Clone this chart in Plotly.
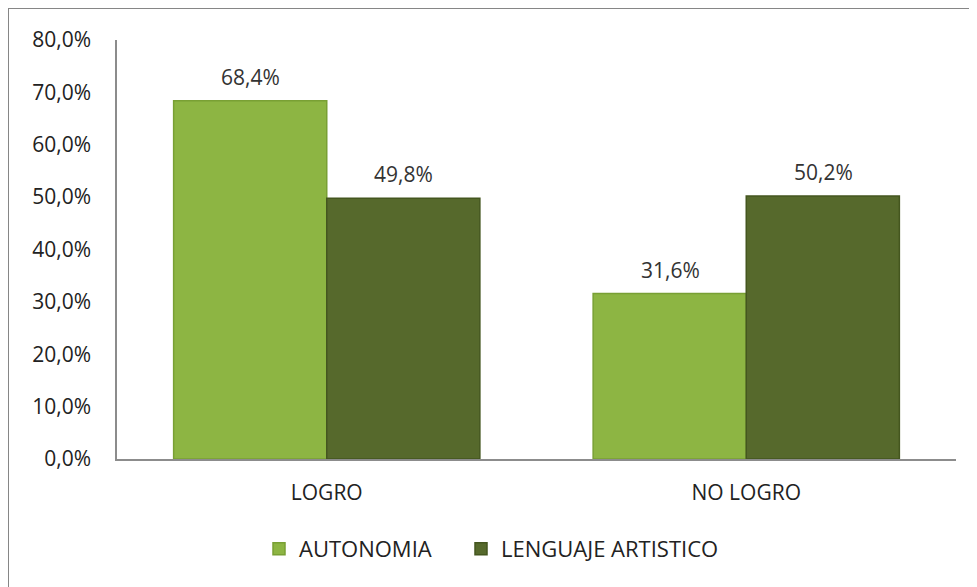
import plotly.graph_objects as go

categories = ["LOGRO", "NO LOGRO"]
autonomia = [68.4, 31.6]
lenguaje = [49.8, 50.2]
series_names = ["AUTONOMIA", "LENGUAJE ARTISTICO"]
tick_vals = [0, 10, 20, 30, 40, 50, 60, 70, 80]
tick_text = ["0,0%", "10,0%", "20,0%", "30,0%", "40,0%", "50,0%", "60,0%", "70,0%", "80,0%"]

FONT = "Open Sans"
FS = 21
W, H = 977, 587
OFF = 8  # page body offset
L, R, T, B = 117 - OFF, 21 + OFF, 40 - OFF, 128 + OFF
pw, ph = W - L - R, H - T - B

def px_x(x):
    return (x - OFF - L) / pw

def px_y(y):
    return (H - B - (y - OFF)) / ph

def fmt(v):
    return f"{v:.1f}%".replace(".", ",")

colors = ["#8db543", "#56692c"]
edges = ["#79a034", "#44561f"]
offsets = [-76, 77]
legend_ids = ["legend", "legend2"]

fig = go.Figure()
for name, vals, c, e, lg in zip(series_names, [autonomia, lenguaje], colors, edges, legend_ids):
    fig.add_trace(go.Bar(
        x=categories, y=vals, name=name, legend=lg,
        marker=dict(color=c, line=dict(color=e, width=1.5)),
    ))

annotations = []
for vals, off in zip([autonomia, lenguaje], offsets):
    for cat, v in zip(categories, vals):
        annotations.append(dict(
            x=cat, y=v, xref="x", yref="y", text=fmt(v), showarrow=False,
            xshift=off, yshift=24, yanchor="middle",
            font=dict(family=FONT, size=FS, color="#333333"),
        ))

def legend_at(xpx):
    return dict(
        orientation="h", x=px_x(xpx), xanchor="left",
        y=px_y(549), yanchor="middle",
        font=dict(family=FONT, size=22, color="#222222"),
        itemwidth=30, bgcolor="rgba(0,0,0,0)",
    )

fig.update_layout(
    width=W, height=H,
    margin=dict(l=L, r=R, t=T, b=B, autoexpand=False),
    paper_bgcolor="white", plot_bgcolor="white",
    barmode="group", bargap=0.27, bargroupgap=0,
    font=dict(family=FONT, size=FS, color="#222222"),
    showlegend=True,
    legend=legend_at(259),
    legend2=legend_at(461),
    xaxis=dict(
        showline=True, linecolor="#8c8c8c", linewidth=1.5,
        ticks="", showgrid=False, automargin=False,
        tickfont=dict(family=FONT, size=FS, color="#222222"),
        ticklabelstandoff=14,
    ),
    yaxis=dict(
        range=[0, 80], tickmode="array", tickvals=tick_vals, ticktext=tick_text,
        showline=True, linecolor="#8c8c8c", linewidth=1.5,
        ticks="", showgrid=False, zeroline=False, automargin=False,
        tickfont=dict(family=FONT, size=FS, color="#222222"),
        ticklabelstandoff=20,
    ),
    annotations=annotations,
    shapes=[dict(
        type="rect", xref="paper", yref="paper",
        x0=px_x(8), x1=px_x(995), y0=px_y(600), y1=px_y(8),
        line=dict(color="#868686", width=2), fillcolor="rgba(0,0,0,0)",
        layer="below",
    )],
)

fig.write_html("out.html")
